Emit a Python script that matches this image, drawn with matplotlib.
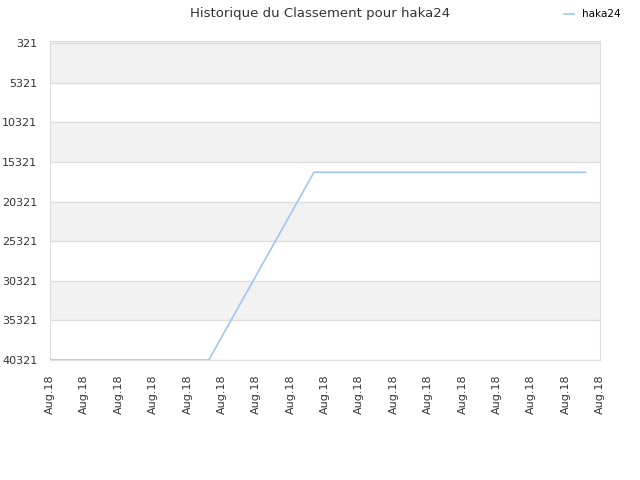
import matplotlib
matplotlib.use("Agg")
import matplotlib.pyplot as plt

# donnees
jours = [0, 4.62, 7.68, 15.58]
classement = [40321, 40321, 16630, 16630]
ticks_y = [321, 5321, 10321, 15321, 20321, 25321, 30321, 35321, 40321]
ticks_x = list(range(17))
labels_x = ["Aug.18"] * 17

fig = plt.figure(figsize=(6.4, 4.8), dpi=100)
ax = fig.add_axes([0.078, 0.25, 0.8595, 0.6656])

# bandes alternees
bornes = [0] + ticks_y[1:]
for i in range(len(bornes) - 1):
    if i % 2 == 0:
        ax.axhspan(bornes[i], bornes[i + 1], color="#f2f2f2", zorder=0, lw=0)
for t in ticks_y:
    ax.axhline(t, color="#dddddd", lw=1, zorder=1)

ax.plot(jours, classement, color="#9ec8f2", lw=1.2, label="haka24", zorder=3)

ax.set_xlim(0, 16)
ax.set_ylim(40321, 0)
ax.set_yticks(ticks_y)
ax.set_yticklabels([str(t) for t in ticks_y])
ax.set_xticks(ticks_x)
ax.set_xticklabels(labels_x, rotation=90)
ax.tick_params(length=0, labelsize=8, colors="#333333")
ax.tick_params(axis="x", pad=10)
ax.tick_params(axis="y", pad=9)
for s in ax.spines.values():
    s.set_color("#dddddd")

fig.suptitle("Historique du Classement pour haka24", x=0.5, y=0.985,
             fontsize=9.5, color="#333333")
fig.legend(loc="upper right", bbox_to_anchor=(0.985, 1.0), frameon=False,
           fontsize=7.5, handlelength=1.0, handletextpad=0.8)

fig.savefig("out.png", dpi=100, facecolor="white")
